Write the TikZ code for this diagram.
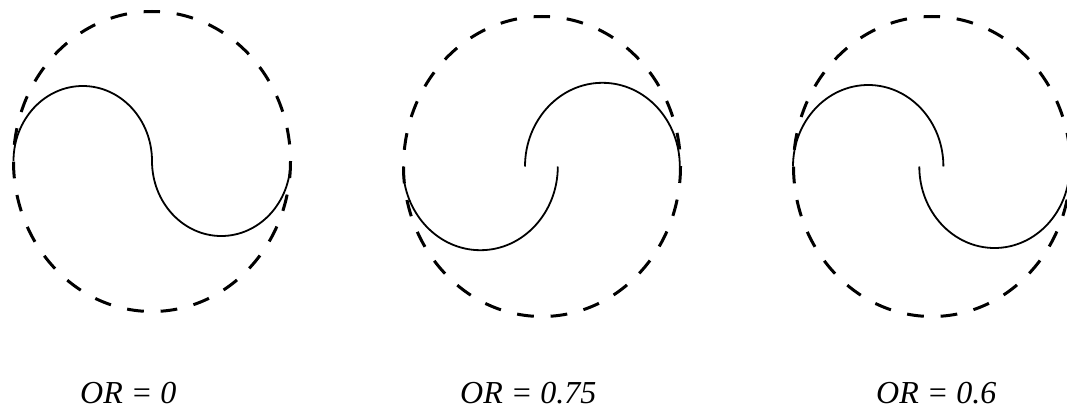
\documentclass[tikz,border=0pt]{standalone}
\usepackage{fontspec}
\setmainfont{Liberation Serif}
\begin{document}
\begin{tikzpicture}[x=1pt,y=1pt,
  rim/.style={line width=3pt, dash pattern=on 16.8pt off 16.8pt, dash phase=8.4pt},
  blade/.style={line width=1.8pt},
  lbl/.style={anchor=base west, inner sep=0pt, font=\fontsize{32}{36}\selectfont\itshape}]
\useasboundingbox (0,0) rectangle (1067,408);
\clip (0,0) rectangle (1067,408);
% rotor 1, OR = 0
\draw[rim] (152,396.5) arc[start angle=90, end angle=450, x radius=138.5, y radius=150];
\draw[blade] (13.5,247) arc[start angle=180, end angle=0, x radius=69.25, y radius=75]
                        arc[start angle=180, end angle=360, x radius=69.25, y radius=75];
% rotor 2, OR = 0.75
\draw[rim] (542,391.5) arc[start angle=90, end angle=450, x radius=138.5, y radius=150];
\draw[blade] (403,241.5) arc[start angle=180, end angle=360, x radius=77.4, y radius=83.7];
\draw[blade] (525,241.5) arc[start angle=180, end angle=0, x radius=77.4, y radius=83.7];
% rotor 3, OR = 0.6
\draw[rim] (932,391.5) arc[start angle=90, end angle=450, x radius=138.5, y radius=150];
\draw[blade] (793,241.5) arc[start angle=180, end angle=0, x radius=75.2, y radius=81.5];
\draw[blade] (919.3,241.5) arc[start angle=180, end angle=360, x radius=75.2, y radius=81.5];
% labels
\node[lbl] (l1) at (80,5) {OR = 0};
\node[lbl] (l2) at (460,5) {OR = 0.75};
\node[lbl] (l3) at (876,5) {OR = 0.6};
\end{tikzpicture}
\end{document}
